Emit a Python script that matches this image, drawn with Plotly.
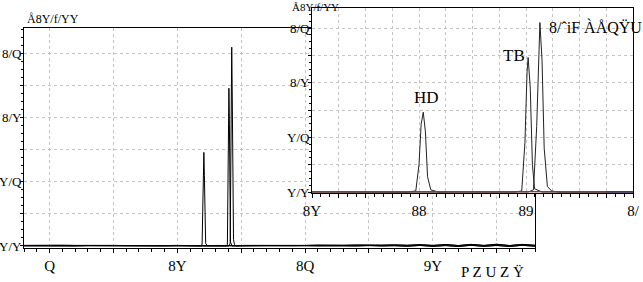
import plotly.graph_objects as go

# ---- data ----
# baseline sample positions and small noise for two overlaid runs
base_x = [4, 4.5, 5, 5.5, 6, 6.5, 7, 7.5, 8, 8.5, 9, 9.5, 10, 10.5, 10.8,
          11.3, 11.6, 11.9, 12.3, 12.6, 13, 13.5, 14, 14.5, 15, 15.5, 16, 16.5,
          17, 17.5, 18, 18.5, 19, 19.5, 20, 20.5, 21, 21.5, 22, 22.5, 23, 23.5, 24]
noise_a = [0.004, 0.006, 0.003, 0.005, 0.004, 0.002, 0.005, 0.004, 0.003, 0.005, 0.004, 0.003,
           0.004, 0.003, 0.002, 0.003, 0.004, 0.002, 0.003, 0.004, 0.003, 0.004, 0.005, 0.003,
           0.004, 0.006, 0.004, 0.005, 0.007, 0.004, 0.006, 0.008, 0.005, 0.010, 0.004, 0.011,
           0.003, 0.012, 0.004, 0.013, 0.003, 0.012, 0.005]
noise_b = [0.001, 0.000, 0.002, 0.001, 0.000, 0.002, 0.001, 0.000, 0.002, 0.001, 0.001, 0.000,
           0.001, 0.000, 0.001, 0.000, 0.001, 0.000, 0.001, 0.000, 0.001, 0.002, 0.000, 0.001,
           0.002, 0.000, 0.002, 0.001, 0.000, 0.003, 0.000, 0.002, -0.002, 0.004, -0.003, 0.003,
           -0.004, 0.005, -0.003, 0.004, -0.004, 0.005, -0.002]

# peak HD
hd_x = [10.90, 10.97, 11.00, 11.02, 11.04, 11.06, 11.08, 11.11, 11.18]
hd_y = [0.0, 0.01, 0.25, 0.62, 0.73, 0.55, 0.14, 0.02, 0.0]
# peak TB
tb_x = [11.90, 11.96, 11.99, 12.01, 12.02, 12.04, 12.06, 12.08, 12.15]
tb_y = [0.0, 0.01, 0.45, 1.10, 1.23, 0.95, 0.25, 0.03, 0.0]
# third peak
p3_x = [12.02, 12.07, 12.10, 12.12, 12.13, 12.15, 12.17, 12.20, 12.24, 12.30]
p3_y = [0.0, 0.02, 0.60, 1.38, 1.55, 1.20, 0.40, 0.05, 0.01, 0.0]

# inset coloured baseline fragments
red_x = [10.0, 10.15, 10.3, 12.7, 12.8, 12.9, 13.0]
red_y = [0.003, 0.004, 0.003, 0.003, 0.004, 0.003, 0.004]
blue_x = [12.75, 12.85, 12.95, 13.0]
blue_y = [0.002, 0.003, 0.002, 0.003]

main_xticks = [5, 7.5, 10, 12.5, 15, 17.5, 20, 22.5]
main_xtext = ["Q", "", "8Y", "", "8Q", "", "9Y", ""]
main_yticks = [0, 0.25, 0.5, 0.75, 1.0, 1.25, 1.5]
main_ytext = ["Y/Y", "", "Y/Q", "", "8/Y", "", "8/Q"]
ins_xticks = [10, 10.25, 10.5, 10.75, 11, 11.25, 11.5, 11.75, 12, 12.25, 12.5, 12.75, 13]
ins_xtext = ["8Y", "", "", "", "88", "", "", "", "89", "", "", "", "8/"]
ins_yticks = [0, 0.25, 0.5, 0.75, 1.0, 1.25, 1.5]
ins_ytext = ["Y/Y", "", "Y/Q", "", "8/Y", "", "8/Q"]


def merge(px, py, nz):
    pts = [(x, y) for x, y in zip(base_x, nz) if x < px[0] or x > px[-1]]
    pts += list(zip(px, py))
    pts.sort()
    return [p[0] for p in pts], [p[1] for p in pts]


runs = [merge(hd_x, hd_y, noise_a), merge(tb_x, tb_y, noise_b), merge(p3_x, p3_y, noise_a)]

W, H = 643, 282
fig = go.Figure()
for rx, ry in runs:
    fig.add_trace(go.Scatter(x=rx, y=ry, mode="lines", line=dict(color="black", width=1),
                             xaxis="x", yaxis="y", showlegend=False))
fig.add_trace(go.Scatter(x=base_x, y=noise_b, mode="lines", line=dict(color="black", width=1),
                         xaxis="x", yaxis="y", showlegend=False))
for rx, ry in runs:
    fig.add_trace(go.Scatter(x=rx, y=ry, mode="lines", line=dict(color="#222", width=1),
                             xaxis="x2", yaxis="y2", showlegend=False))
fig.add_trace(go.Scatter(x=red_x, y=red_y, mode="lines", line=dict(color="#c03030", width=1),
                         xaxis="x2", yaxis="y2", showlegend=False))
fig.add_trace(go.Scatter(x=blue_x, y=blue_y, mode="lines", line=dict(color="#3030c0", width=1),
                         xaxis="x2", yaxis="y2", showlegend=False))

font = dict(family="Liberation Serif", size=15, color="black")
yfont = dict(family="Liberation Serif", size=13, color="black")
grid = dict(showgrid=True, gridcolor="#c4c4c4", griddash="dot", gridwidth=1)
ax = dict(showline=True, linecolor="black", linewidth=1, mirror=True, zeroline=False,
          automargin=False, ticks="outside", tickcolor="black", **grid)

fig.update_layout(
    width=W, height=H, margin=dict(l=0, r=0, t=0, b=0, autoexpand=False),
    paper_bgcolor="white", plot_bgcolor="white",
    xaxis=dict(domain=[24 / W, 535 / W], range=[4.0, 24.0], tickmode="array",
               tickvals=main_xticks, ticktext=main_xtext, ticklen=4, tickfont=font,
               minor=dict(dtick=0.5, ticks="outside", ticklen=3, tickcolor="black", showgrid=False),
               **ax),
    yaxis=dict(domain=[(H - 248) / H, (H - 28) / H], range=[-0.016, 1.70], tickmode="array",
               tickvals=main_yticks, ticktext=main_ytext, ticklen=3, tickfont=yfont,
               ticklabelstandoff=-4,
               minor=dict(dtick=0.0625, ticks="outside", ticklen=2, tickcolor="black", showgrid=False),
               **ax),
    xaxis2=dict(domain=[312 / W, 633 / W], range=[10, 13], anchor="y2", tickmode="array",
                tickvals=ins_xticks, ticktext=ins_xtext, ticklen=4, tickfont=font,
                minor=dict(dtick=0.0833333, ticks="outside", ticklen=3, tickcolor="black", showgrid=False),
                **ax),
    yaxis2=dict(domain=[(H - 193) / H, (H - 8) / H], range=[-0.009, 1.683], anchor="x2",
                tickmode="array", tickvals=ins_yticks, ticktext=ins_ytext, ticklen=3, tickfont=yfont,
                ticklabelstandoff=-4,
                minor=dict(dtick=0.0625, ticks="outside", ticklen=2, tickcolor="black", showgrid=False),
                **ax),
)

ann = [
    dict(text="Å8Y/f/YY", x=25 / W, y=(H - 19) / H, xanchor="left", yanchor="middle", size=12),
    dict(text="Å8Y/f/YY", x=290 / W, y=(H - 6.5) / H, xanchor="left", yanchor="middle", size=11),
    dict(text="HD", x=427 / W, y=(H - 97) / H, xanchor="center", yanchor="middle", size=17),
    dict(text="TB", x=514 / W, y=(H - 55) / H, xanchor="center", yanchor="middle", size=17),
    dict(text="8/ˆiF ÀÅQŸU", x=547 / W, y=(H - 27) / H, xanchor="left", yanchor="middle", size=16),
    dict(text="P Z U Z Ÿ", x=492 / W, y=(H - 272) / H, xanchor="center", yanchor="middle", size=15),
]
for a in ann:
    fig.add_annotation(xref="paper", yref="paper", x=a["x"], y=a["y"], text=a["text"],
                       xanchor=a["xanchor"], yanchor=a["yanchor"], showarrow=False,
                       font=dict(family="Liberation Serif", size=a["size"], color="black"))

fig.write_html("out.html")
